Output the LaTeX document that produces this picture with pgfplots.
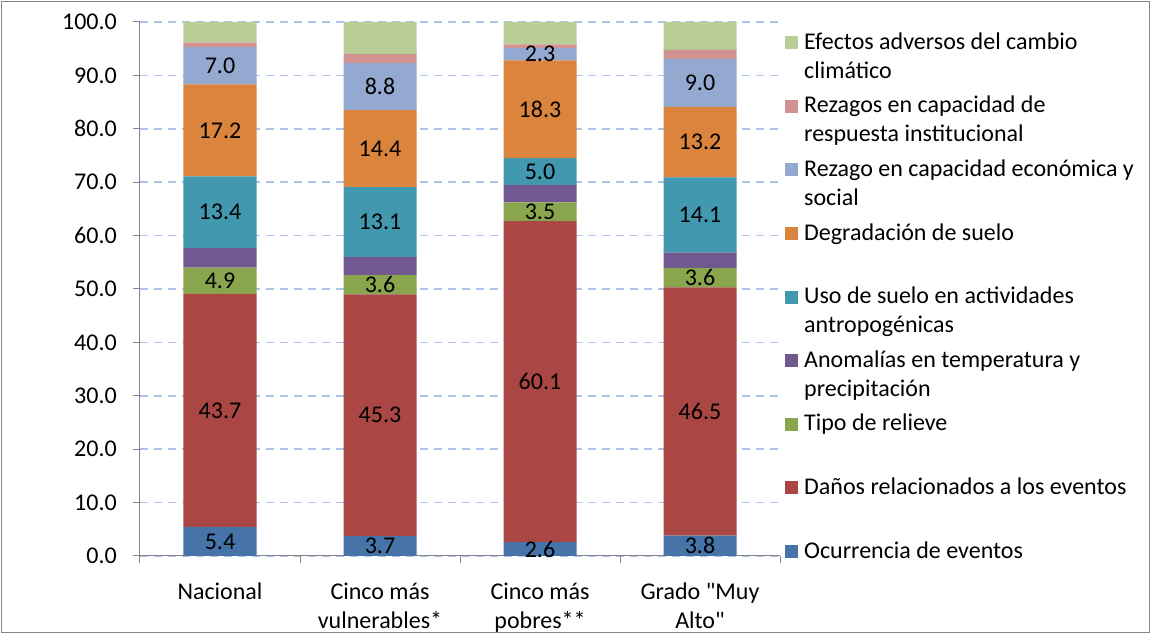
\documentclass[border=0pt]{standalone}
\usepackage{pgfplots}
\pgfplotsset{compat=1.18}
\usepackage{fontspec}
\setmainfont{Carlito}[Ligatures=TeXOff]

\definecolor{cOcu}{HTML}{4674A8}
\definecolor{cDan}{HTML}{AA4643}
\definecolor{cRel}{HTML}{89A54E}
\definecolor{cAno}{HTML}{71588F}
\definecolor{cUso}{HTML}{4198AF}
\definecolor{cDeg}{HTML}{DB843D}
\definecolor{cRec}{HTML}{93A9CF}
\definecolor{cRin}{HTML}{D19392}
\definecolor{cEfe}{HTML}{B9CD96}
\definecolor{axgray}{HTML}{868686}
\definecolor{gridblue}{HTML}{AFC3E8}

\newcommand{\two}[2]{\begin{tabular}[t]{@{}l@{}}#1\\#2\end{tabular}}

\pgfplotsset{
  lab/.style={
    visualization depends on={rawy \as \myval},
    nodes near coords={\pgfmathprintnumber[fixed,fixed zerofill,precision=1]{\myval}},
    every node near coord/.append style={anchor=center, text=black, inner sep=0pt},
  },
}

\begin{document}
\fontsize{24}{29}\selectfont
\begin{tikzpicture}
\useasboundingbox (0pt,0pt) rectangle (1152pt,634pt);
\draw[axgray, line width=1pt] (1.5pt,1.5pt) rectangle (1149.5pt,632.5pt);
\begin{axis}[
  at={(140pt,78pt)}, anchor=south west,
  scale only axis, width=640pt, height=534pt,
  ybar stacked, bar width=73pt,
  xmin=-0.5, xmax=3.5, ymin=0, ymax=100,
  axis x line*=bottom, axis y line*=left,
  axis line style={draw=axgray, line width=1pt, -},
  xtick={0,1,2,3},
  xticklabels={Nacional, {Cinco más\\vulnerables*}, {Cinco más\\pobres**}, {Grado "Muy\\Alto"}},
  xticklabel style={align=center, anchor=north, inner sep=0pt, yshift=-20pt},
  xtick style={draw=none},
  extra x ticks={-0.5,0.5,1.5,2.5,3.5},
  extra x tick labels={},
  extra x tick style={grid=none, xtick style={draw=axgray, line width=1pt}},
  ytick={0,10,...,100},
  ytick style={draw=axgray, line width=1pt},
  tick align=outside,
  major tick length=7pt,
  yticklabel style={anchor=east, inner sep=0pt, xshift=-16pt},
  /pgf/number format/fixed, /pgf/number format/fixed zerofill, /pgf/number format/precision=1,
  /pgf/number format/assume math mode=true,
  ymajorgrids,
  major grid style={draw=gridblue, line width=1.5pt, dash pattern=on 8pt off 6pt},
  reverse legend,
  legend cell align=left,
  legend image code/.code={\draw[#1, draw=none] (0pt,0pt) rectangle (13pt,13pt);},
  legend style={
    at={(rel axis cs:1.0078,0.9775)}, anchor=north west,
    draw=none, fill=none, inner sep=0pt,
    column sep=6pt, row sep=0pt,
    cells={anchor=base west},
    nodes={inner sep=0pt, text height=15pt, text depth=48.6pt},
  },
]
\addplot[fill=cOcu, draw=none, lab] coordinates {(0,5.4) (1,3.7) (2,2.6) (3,3.8)};
\addlegendentry{Ocurrencia de eventos}
\addplot[fill=cDan, draw=none, lab] coordinates {(0,43.7) (1,45.3) (2,60.1) (3,46.5)};
\addlegendentry{Daños relacionados a los eventos}
\addplot[fill=cRel, draw=none, lab] coordinates {(0,4.9) (1,3.6) (2,3.5) (3,3.6)};
\addlegendentry{Tipo de relieve}
\addplot[fill=cAno, draw=none] coordinates {(0,3.7) (1,3.4) (2,3.3) (3,2.9)};
\addlegendentry{\two{Anomalías en temperatura y}{precipitación}}
\addplot[fill=cUso, draw=none, lab] coordinates {(0,13.4) (1,13.1) (2,5.0) (3,14.1)};
\addlegendentry{\two{Uso de suelo en actividades}{antropogénicas}}
\addplot[fill=cDeg, draw=none, lab] coordinates {(0,17.2) (1,14.4) (2,18.3) (3,13.2)};
\addlegendentry{Degradación de suelo}
\addplot[fill=cRec, draw=none, lab] coordinates {(0,7.0) (1,8.8) (2,2.3) (3,9.0)};
\addlegendentry{\two{Rezago en capacidad económica y}{social}}
\addplot[fill=cRin, draw=none] coordinates {(0,0.9) (1,1.7) (2,0.7) (3,1.7)};
\addlegendentry{\two{Rezagos en capacidad de}{respuesta institucional}}
\addplot[fill=cEfe, draw=none] coordinates {(0,3.8) (1,6.0) (2,4.2) (3,5.2)};
\addlegendentry{\two{Efectos adversos del cambio}{climático}}
\end{axis}
\end{tikzpicture}
\end{document}
